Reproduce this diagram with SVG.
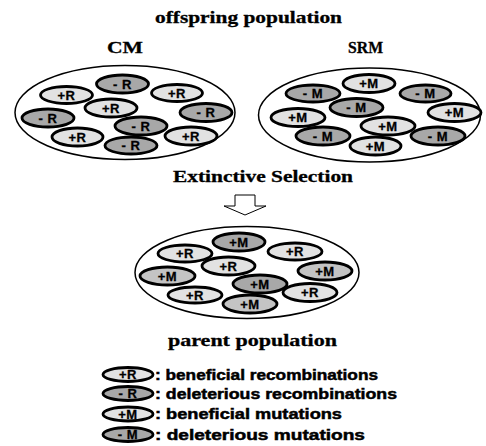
<svg xmlns="http://www.w3.org/2000/svg" width="486" height="446" viewBox="0 0 486 446">
<style>
.title{font-family:"Liberation Serif","Times New Roman",serif;font-weight:bold;font-size:16.5px;fill:#000;stroke:#000;stroke-width:0.3}
.pop{fill:#fff;stroke:#000;stroke-width:1.5}
.cell{stroke:#000;stroke-width:2.8}
.lt{fill:#e2e2e2}
.md{fill:#c4c4c4}
.dk{fill:#a8a8a8}
.lbl{font-family:"Liberation Sans",Arial,sans-serif;font-weight:bold;font-size:13px;fill:#000;text-anchor:middle;letter-spacing:0.5px;stroke:#000;stroke-width:0.3}
.leg{font-family:"Liberation Sans",Arial,sans-serif;font-weight:bold;font-size:15px;fill:#000;stroke:#000;stroke-width:0.5}
.arrow{fill:#fff;stroke:#000;stroke-width:1}
</style>
<rect width="486" height="446" fill="#fff"/>
<text class="title" x="155" y="22.5" textLength="187" lengthAdjust="spacingAndGlyphs">offspring population</text>
<text class="title" x="107" y="53" textLength="36" lengthAdjust="spacingAndGlyphs">CM</text>
<text class="title" x="348" y="53" textLength="35" lengthAdjust="spacingAndGlyphs">SRM</text>

<g id="cm-population">
<ellipse class="pop" cx="125" cy="112.5" rx="110" ry="47"/>
<g id="cm1"><ellipse class="cell dk" cx="122.5" cy="84" rx="26" ry="9"/><text class="lbl" x="122.5" y="88.5">- R</text></g>
<g id="cm2"><ellipse class="cell lt" cx="66.5" cy="95" rx="26" ry="8.5"/><text class="lbl" x="66.5" y="99.5">+R</text></g>
<g id="cm3"><ellipse class="cell lt" cx="177" cy="93" rx="25.5" ry="8.5"/><text class="lbl" x="177" y="97.5">+R</text></g>
<g id="cm4"><ellipse class="cell lt" cx="111" cy="108" rx="26" ry="9"/><text class="lbl" x="111" y="112.5">+R</text></g>
<g id="cm5"><ellipse class="cell dk" cx="48" cy="118" rx="26" ry="9"/><text class="lbl" x="48" y="122.5">- R</text></g>
<g id="cm6"><ellipse class="cell dk" cx="206" cy="112.5" rx="26" ry="9"/><text class="lbl" x="206" y="117">- R</text></g>
<g id="cm7"><ellipse class="cell dk" cx="141" cy="126" rx="26" ry="9"/><text class="lbl" x="141" y="130.5">- R</text></g>
<g id="cm8"><ellipse class="cell lt" cx="77.5" cy="137" rx="25.5" ry="9"/><text class="lbl" x="77.5" y="141.5">+R</text></g>
<g id="cm9"><ellipse class="cell lt" cx="191" cy="136" rx="26" ry="9"/><text class="lbl" x="191" y="140.5">+R</text></g>
<g id="cm10"><ellipse class="cell dk" cx="131" cy="145.5" rx="26" ry="8.5"/><text class="lbl" x="131" y="150">- R</text></g>
</g>

<g id="srm-population">
<ellipse class="pop" cx="369.5" cy="115" rx="111" ry="47"/>
<g id="srm1"><ellipse class="cell lt" cx="369" cy="83.5" rx="26" ry="9"/><text class="lbl" x="369" y="88">+M</text></g>
<g id="srm2"><ellipse class="cell dk" cx="313" cy="93.5" rx="27" ry="8.5"/><text class="lbl" x="313" y="98">- M</text></g>
<g id="srm3"><ellipse class="cell dk" cx="425.5" cy="93.5" rx="25.5" ry="8.5"/><text class="lbl" x="425.5" y="98">- M</text></g>
<g id="srm4"><ellipse class="cell dk" cx="356.5" cy="107.5" rx="26.5" ry="9"/><text class="lbl" x="356.5" y="112">- M</text></g>
<g id="srm5"><ellipse class="cell lt" cx="298" cy="117.5" rx="27" ry="9"/><text class="lbl" x="298" y="122">+M</text></g>
<g id="srm6"><ellipse class="cell lt" cx="454.5" cy="112.5" rx="26.5" ry="9"/><text class="lbl" x="454.5" y="117">+M</text></g>
<g id="srm7"><ellipse class="cell lt" cx="388" cy="126" rx="27" ry="9"/><text class="lbl" x="388" y="130.5">+M</text></g>
<g id="srm8"><ellipse class="cell dk" cx="323" cy="136" rx="27" ry="9"/><text class="lbl" x="323" y="140.5">- M</text></g>
<g id="srm9"><ellipse class="cell dk" cx="438" cy="136" rx="27" ry="9"/><text class="lbl" x="438" y="140.5">- M</text></g>
<g id="srm10"><ellipse class="cell lt" cx="375.5" cy="146" rx="25.5" ry="9"/><text class="lbl" x="375.5" y="150.5">+M</text></g>
</g>

<text class="title" x="173" y="182" textLength="180" lengthAdjust="spacingAndGlyphs">Extinctive Selection</text>

<g id="connectors">
<polygon class="arrow" points="235,195 255,195 255,206 266,206 245,215 224,206 235,206"/>
</g>

<g id="parent-population">
<ellipse class="pop" cx="247" cy="272.5" rx="112" ry="46"/>
<g id="p1"><ellipse class="cell dk" cx="239" cy="242" rx="26" ry="9"/><text class="lbl" x="239" y="246.5">+M</text></g>
<g id="p2"><ellipse class="cell lt" cx="185" cy="253.5" rx="27" ry="8.5"/><text class="lbl" x="185" y="258">+R</text></g>
<g id="p3"><ellipse class="cell lt" cx="295" cy="251.5" rx="27" ry="8.5"/><text class="lbl" x="295" y="256">+R</text></g>
<g id="p4"><ellipse class="cell lt" cx="228.5" cy="266" rx="26.5" ry="9"/><text class="lbl" x="228.5" y="270.5">+R</text></g>
<g id="p5"><ellipse class="cell md" cx="167.5" cy="276" rx="27.5" ry="9"/><text class="lbl" x="167.5" y="280.5">+M</text></g>
<g id="p6"><ellipse class="cell md" cx="325" cy="271" rx="27" ry="9"/><text class="lbl" x="325" y="275.5">+M</text></g>
<g id="p7"><ellipse class="cell dk" cx="260" cy="284" rx="27" ry="9"/><text class="lbl" x="260" y="288.5">+M</text></g>
<g id="p8"><ellipse class="cell lt" cx="195" cy="295" rx="27" ry="8"/><text class="lbl" x="195" y="299.5">+R</text></g>
<g id="p9"><ellipse class="cell lt" cx="310" cy="292.5" rx="27" ry="9"/><text class="lbl" x="310" y="297">+R</text></g>
<g id="p10"><ellipse class="cell md" cx="250" cy="304" rx="27" ry="9"/><text class="lbl" x="250" y="308.5">+M</text></g>
</g>

<text class="title" x="168" y="346" textLength="169" lengthAdjust="spacingAndGlyphs">parent population</text>

<g id="legend">
<g id="leg1"><ellipse class="cell lt" cx="128" cy="374.5" rx="25" ry="7"/><text class="lbl" x="128" y="379">+R</text><text class="leg" x="155" y="379.5" textLength="223" lengthAdjust="spacingAndGlyphs">: beneficial recombinations</text></g>
<g id="leg2"><ellipse class="cell dk" cx="128" cy="393.5" rx="25" ry="7"/><text class="lbl" x="128" y="398">- R</text><text class="leg" x="155" y="398.5" textLength="242" lengthAdjust="spacingAndGlyphs">: deleterious recombinations</text></g>
<g id="leg3"><ellipse class="cell lt" cx="128" cy="414" rx="25" ry="7"/><text class="lbl" x="128" y="418.5">+M</text><text class="leg" x="155" y="419" textLength="187" lengthAdjust="spacingAndGlyphs">: beneficial mutations</text></g>
<g id="leg4"><ellipse class="cell dk" cx="128" cy="434.5" rx="25" ry="7"/><text class="lbl" x="128" y="439">- M</text><text class="leg" x="155" y="439.5" textLength="210" lengthAdjust="spacingAndGlyphs">: deleterious mutations</text></g>
</g>
</svg>
